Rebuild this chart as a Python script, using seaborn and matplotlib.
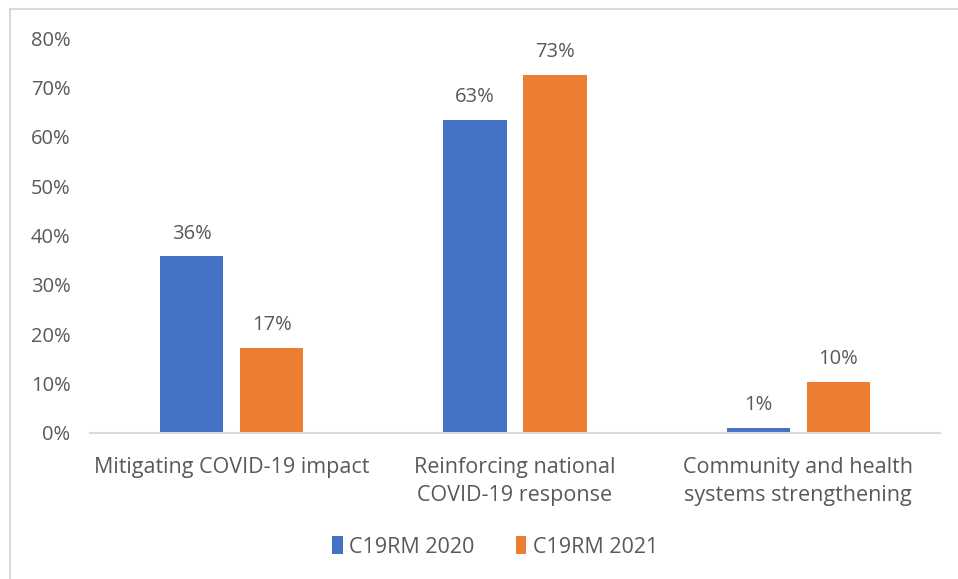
import matplotlib
matplotlib.use("Agg")
import matplotlib.pyplot as plt
import seaborn as sns
import pandas as pd
from matplotlib.lines import Line2D

categories = ["Mitigating COVID-19 impact",
              "Reinforcing national\nCOVID-19 response",
              "Community and health\nsystems strengthening"]
share_2020 = [0.358, 0.634, 0.011]
share_2021 = [0.173, 0.726, 0.104]
series = ["C19RM 2020", "C19RM 2021"]
colors = ["#4472C4", "#ED7D31"]
yticks = [0, 0.1, 0.2, 0.3, 0.4, 0.5, 0.6, 0.7, 0.8]

df = pd.DataFrame({
    "area": categories * 2,
    "share": share_2020 + share_2021,
    "round": [series[0]] * 3 + [series[1]] * 3,
})

sns.set_theme(style="white")
plt.rcParams["font.family"] = ["Open Sans", "DejaVu Sans"]
grey = "#595959"

fig = plt.figure(figsize=(9.58, 5.79), dpi=100)
ax = fig.add_axes([90 / 958, 146 / 579, 850 / 958, 395 / 579])

sns.barplot(data=df, x="area", y="share", hue="round", palette=colors,
            width=0.565, gap=0.21, ax=ax, saturation=1, legend=True,
            linewidth=0)

ax.set_ylim(0, 0.8)
ax.set_xlim(-0.5, 2.5)
ax.set_yticks(yticks)
ax.set_yticklabels([f"{t:.0%}" for t in yticks], fontsize=14.5, color=grey)
ax.tick_params(axis="y", length=0, pad=14)
ax.tick_params(axis="x", length=0, pad=17)
for lab in ax.get_xticklabels():
    lab.set_fontsize(15.5)
    lab.set_color(grey)
    lab.set_linespacing(1.45)
ax.set_xlabel("")
ax.set_ylabel("")
sns.despine(ax=ax, left=True)
ax.spines["bottom"].set_color("#d9d9d9")
ax.spines["bottom"].set_linewidth(1.5)

for cont in ax.containers:
    ax.bar_label(cont, labels=[f"{v:.0%}" for v in cont.datavalues],
                 padding=9, fontsize=14.5, color=grey)

handles, labels = ax.get_legend_handles_labels()
leg = ax.legend(handles, labels, loc="center", bbox_to_anchor=(495 / 958, 32 / 579),
                bbox_transform=fig.transFigure, ncol=2, frameon=False,
                handlelength=0.5, handleheight=0.85, handletextpad=0.3,
                columnspacing=1.9, prop={"size": 15.5})
for t in leg.get_texts():
    t.set_color(grey)

# outer chart frame (top and left edges, the rest runs off the image)
top = 1 - 9 / 579
left = 10 / 958
fig.add_artist(Line2D([left, 1.0], [top, top], transform=fig.transFigure,
                      color="#d9d9d9", linewidth=1.5))
fig.add_artist(Line2D([left, left], [0, top], transform=fig.transFigure,
                      color="#d9d9d9", linewidth=1.5))

fig.savefig("out.png", dpi=100)
